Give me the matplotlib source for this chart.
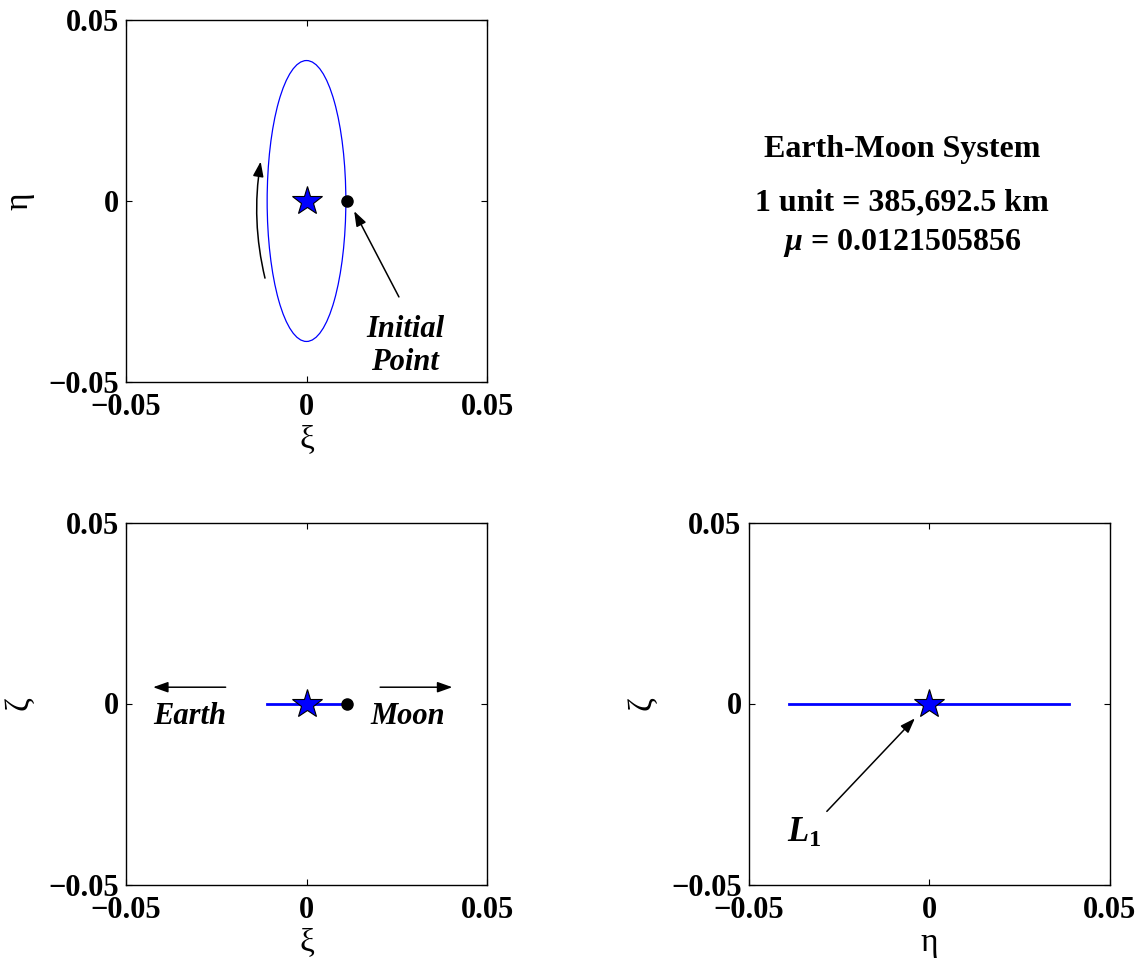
import matplotlib
matplotlib.use("Agg")
import matplotlib.pyplot as plt
from matplotlib.patches import Ellipse

# ---- data ----
ticks = [-0.05, 0.0, 0.05]
tick_labels = ["\u22120.05", "0", "0.05"]
axis_limits = (-0.05, 0.05)

orbit_xi_halfwidth = 0.0109    # semi-axis of orbit along xi
orbit_eta_halfwidth = 0.0388   # semi-axis of orbit along eta
orbit_zeta_halfwidth = 0.0     # planar orbit

L1_point = (0.0, 0.0, 0.0)           # xi, eta, zeta
initial_point = (0.0112, 0.0, 0.0)   # xi, eta, zeta

info_lines = ["Earth-Moon System", "1 unit = 385,692.5 km", r"$\mu$ = 0.0121505856"]

# ---- style ----
plt.rcParams["font.family"] = ["Liberation Serif", "DejaVu Serif"]
plt.rcParams["mathtext.fontset"] = "custom"
plt.rcParams["mathtext.it"] = "Liberation Serif:italic:bold"
plt.rcParams["mathtext.rm"] = "Liberation Serif:bold"
plt.rcParams["mathtext.bf"] = "Liberation Serif:bold"

W, H = 1144, 958
fig = plt.figure(figsize=(W / 100, H / 100), dpi=100)

ax_w, ax_h = 361 / W, 362 / H
ax_tl = fig.add_axes([126 / W, 1 - 382 / H, ax_w, ax_h])
ax_bl = fig.add_axes([126 / W, 1 - 884.5 / H, ax_w, ax_h])
ax_br = fig.add_axes([748.5 / W, 1 - 884.5 / H, ax_w, ax_h])

TICK_FS = 22
LABEL_FS = 24
ANN_FS = 22


def style(ax, xlabel, ylabel):
    ax.set_xlim(*axis_limits)
    ax.set_ylim(*axis_limits)
    ax.set_xticks(ticks)
    ax.set_yticks(ticks)
    ax.set_xticklabels(tick_labels, fontsize=TICK_FS, fontweight="bold")
    ax.set_yticklabels(tick_labels, fontsize=TICK_FS, fontweight="bold")
    ax.tick_params(direction="in", length=4, width=0.8, top=True, right=True)
    ax.tick_params(axis="x", pad=8)
    ax.tick_params(axis="y", pad=5)
    for s in ax.spines.values():
        s.set_linewidth(1.0)
    ax.set_xlabel(xlabel, fontsize=LABEL_FS, labelpad=2)
    ax.set_ylabel(ylabel, fontsize=LABEL_FS, labelpad=10)


star_kw = dict(marker="*", ms=22, mfc="blue", mec="black", mew=0.8, ls="none", zorder=5)
dot_kw = dict(marker="o", ms=8, mfc="black", mec="black", ls="none", zorder=5)
arrow_kw = dict(arrowstyle="-|>,head_length=0.9,head_width=0.32", color="black", lw=1.1,
                shrinkA=0, shrinkB=0)

# ---- top-left: xi-eta ----
ax = ax_tl
ax.add_patch(Ellipse((L1_point[0], L1_point[1]), 2 * orbit_xi_halfwidth,
                     2 * orbit_eta_halfwidth, fill=False, ec="blue", lw=0.9))
ax.plot([L1_point[0]], [L1_point[1]], **star_kw)
ax.plot([initial_point[0]], [initial_point[1]], **dot_kw)
ax.annotate("", xy=(-0.0127, 0.0109), xytext=(-0.0115, -0.0213),
            arrowprops=dict(arrow_kw, connectionstyle="arc3,rad=-0.1"))
ax.annotate("", xy=(0.0132, -0.0028), xytext=(0.0256, -0.0265),
            arrowprops=dict(arrow_kw))
ax.text(0.0273, -0.0400, "Initial\nPoint", fontsize=ANN_FS, fontweight="bold",
        fontstyle="italic", ha="center", va="center", linespacing=1.2)
style(ax, "\u03be", "\u03b7")

# ---- bottom-left: xi-zeta ----
ax = ax_bl
ax.plot([L1_point[0] - orbit_xi_halfwidth, L1_point[0] + orbit_xi_halfwidth],
        [L1_point[2] - orbit_zeta_halfwidth, L1_point[2] + orbit_zeta_halfwidth],
        color="blue", lw=2)
ax.plot([L1_point[0]], [L1_point[2]], **star_kw)
ax.plot([initial_point[0]], [initial_point[2]], **dot_kw)
ax.annotate("", xy=(-0.0425, 0.0045), xytext=(-0.0224, 0.0045), arrowprops=dict(arrow_kw))
ax.annotate("", xy=(0.0404, 0.0045), xytext=(0.0204, 0.0045), arrowprops=dict(arrow_kw))
ax.text(-0.0323, -0.0035, "Earth", fontsize=ANN_FS, fontweight="bold", fontstyle="italic",
        ha="center", va="center")
ax.text(0.0280, -0.0035, "Moon", fontsize=ANN_FS, fontweight="bold", fontstyle="italic",
        ha="center", va="center")
style(ax, "\u03be", "\u03b6")

# ---- bottom-right: eta-zeta ----
ax = ax_br
ax.plot([L1_point[1] - orbit_eta_halfwidth, L1_point[1] + orbit_eta_halfwidth],
        [L1_point[2] - orbit_zeta_halfwidth, L1_point[2] + orbit_zeta_halfwidth],
        color="blue", lw=2)
ax.plot([L1_point[1]], [L1_point[2]], **star_kw)
ax.annotate("", xy=(-0.0039, -0.0041), xytext=(-0.0283, -0.0298), arrowprops=dict(arrow_kw))
ax.text(-0.0345, -0.0358, r"$L_{1}$", fontsize=25, ha="center", va="center")
style(ax, "\u03b7", "\u03b6")

# ---- info text ----
ys = [149, 203, 243]
for line, y in zip(info_lines, ys):
    fig.text(902 / W, 1 - y / H, line, fontsize=23, fontweight="bold",
             ha="center", va="center")

fig.savefig("out.png", dpi=100)
